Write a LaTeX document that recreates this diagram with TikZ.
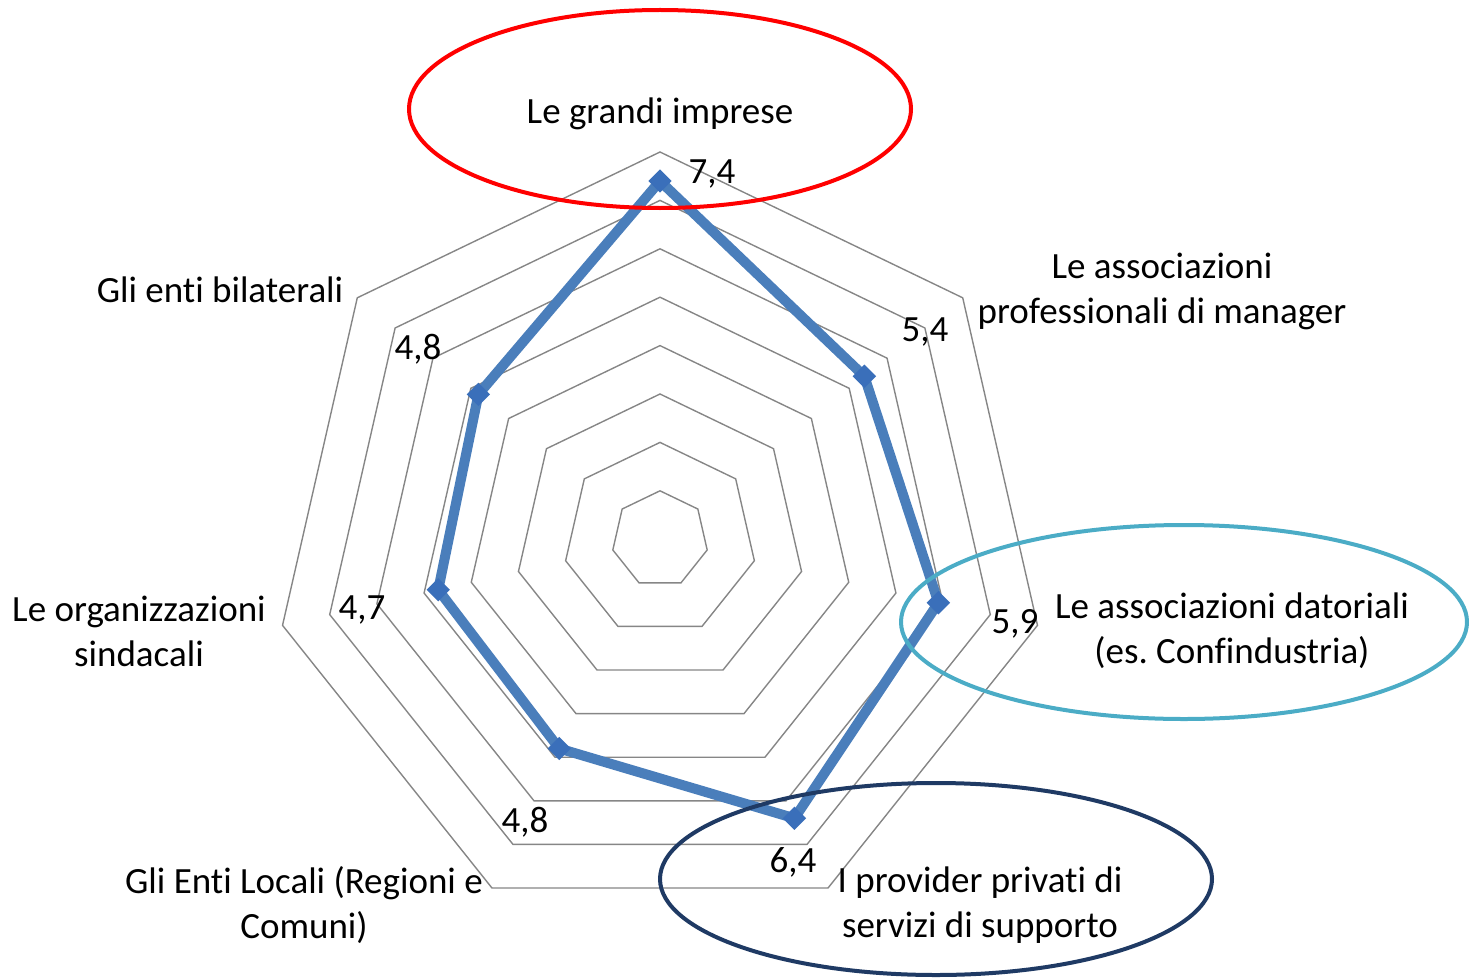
\documentclass[tikz,border=0pt]{standalone}
\usepackage{fontspec}
\setmainfont{Carlito}[Ligatures={NoCommon}]
\frenchspacing
\definecolor{gridgray}{HTML}{868686}
\definecolor{serieblue}{HTML}{4A7EBB}
\definecolor{markblue}{HTML}{3A6FBA}
\definecolor{ringred}{HTML}{FF0000}
\definecolor{ringteal}{HTML}{4BACC6}
\definecolor{ringnavy}{HTML}{1F3A64}
\tikzset{
  gridline/.style={draw=gridgray, line width=1.4pt, line join=miter},
  dataline/.style={draw=serieblue, line width=10pt, line join=miter},
  marker/.style={rectangle, rotate=45, fill=markblue, minimum size=16.5pt, inner sep=0pt},
  lbl/.style={font=\fontsize{37}{45}\selectfont, align=center, inner sep=0pt},
  val/.style={font=\fontsize{37}{45}\selectfont, inner sep=0pt},
  ring/.style={line width=4pt}
}
\begin{document}
\begin{tikzpicture}[x=1pt,y=-1pt]
\useasboundingbox (0,0) rectangle (1469,979);
\def\cx{660}\def\cy{539.2}\def\u{48.4}
% grid rings
\foreach \r in {1,...,8}{
  \draw[gridline] ({\cx},{\cy-\r*\u})
    \foreach \k in {1,...,6}{ -- ({\cx+\r*\u*sin(\k*360/7)},{\cy-\r*\u*cos(\k*360/7)}) } -- cycle;
}
% data points
\foreach \v [count=\k from 0] in {7.4,5.4,5.9,6.4,4.8,4.7,4.8}{
  \coordinate (p\k) at ({\cx+\v*\u*sin(\k*360/7)},{\cy-\v*\u*cos(\k*360/7)});
}
\draw[dataline] (p0) -- (p1) -- (p2) -- (p3) -- (p4) -- (p5) -- (p6) -- cycle;
\foreach \k in {0,...,6}{ \node[marker] (m\k) at (p\k) {}; }
% value labels
\node[val] (v0) at (712,174) {7,4};
\node[val] (v1) at (925,332) {5,4};
\node[val] (v2) at (1015,624) {5,9};
\node[val] (v3) at (793,862) {6,4};
\node[val] (v4) at (525,822) {4,8};
\node[val] (v5) at (362,610) {4,7};
\node[val] (v6) at (418,349) {4,8};
% category labels
\node[lbl] (c0) at (660,114) {Le grandi imprese};
\node[lbl] (c1) at (1162,291) {Le associazioni\\professionali di manager};
\node[lbl] (c2) at (1232,631) {Le associazioni datoriali\\(es. Confindustria)};
\node[lbl] (c3) at (980,905) {I provider privati di\\servizi di supporto};
\node[lbl] (c4) at (304,905) {Gli Enti Locali (Regioni e\\Comuni)};
\node[lbl] (c5) at (139,631) {Le organizzazioni\\sindacali};
\node[lbl] (c6) at (220,290) {Gli enti bilaterali};
% highlight ellipses
\draw[ring, draw=ringred] (660,109) ellipse [x radius=251, y radius=99];
\draw[ring, draw=ringteal] (1184,622) ellipse [x radius=283, y radius=97];
\draw[ring, draw=ringnavy] (936,879) ellipse [x radius=276, y radius=96];
\end{tikzpicture}
\end{document}
